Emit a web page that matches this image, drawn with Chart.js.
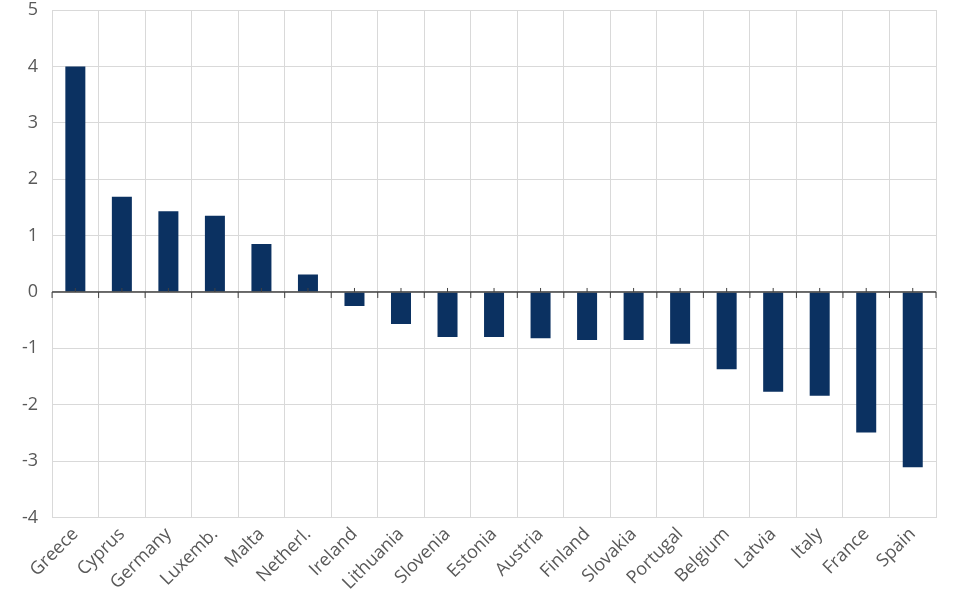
<!DOCTYPE html>
<html>
<head>
<meta charset="utf-8">
<script src="https://cdn.jsdelivr.net/npm/chart.js@4.4.0/dist/chart.umd.min.js"></script>
<style>
  html, body { margin: 0; padding: 0; background: #fff; }
  #wrap { width: 960px; height: 600px; }
</style>
</head>
<body>
<div id="wrap"><canvas id="chart"></canvas></div>
<script>
const countries = ['Greece', 'Cyprus', 'Germany', 'Luxemb.', 'Malta', 'Netherl.', 'Ireland', 'Lithuania', 'Slovenia',
    'Estonia', 'Austria', 'Finland', 'Slovakia', 'Portugal', 'Belgium', 'Latvia', 'Italy', 'France', 'Spain'];
const values = [4.0, 1.69, 1.43, 1.35, 0.85, 0.31, -0.25, -0.57, -0.80,
    -0.80, -0.82, -0.85, -0.85, -0.92, -1.37, -1.77, -1.84, -2.49, -3.11];
const yMin = -4;
const yMax = 5;

// zero line with small tick marks, like the original axis
const zeroAxis = {
    id: 'zeroAxis',
    afterDatasetsDraw(chart) {
        const { ctx, chartArea, scales: { x, y } } = chart;
        const y0 = y.getPixelForValue(0);
        ctx.save();
        ctx.strokeStyle = '#404040';
        ctx.lineWidth = 1.5;
        ctx.beginPath();
        ctx.moveTo(chartArea.left, y0);
        ctx.lineTo(chartArea.right, y0);
        ctx.stroke();
        ctx.lineWidth = 1;
        const half = (x.getPixelForValue(1) - x.getPixelForValue(0)) / 2;
        countries.forEach((c, i) => {
            const cx = x.getPixelForValue(i);
            ctx.beginPath();
            ctx.moveTo(cx, y0);
            ctx.lineTo(cx, y0 - 4);
            ctx.moveTo(cx - half, y0);
            ctx.lineTo(cx - half, y0 + 6);
            ctx.stroke();
        });
        ctx.beginPath();
        ctx.moveTo(chartArea.right, y0);
        ctx.lineTo(chartArea.right, y0 + 6);
        ctx.stroke();
        ctx.restore();
    }
};

new Chart(document.getElementById('chart'), {
    type: 'bar',
    data: {
        labels: countries,
        datasets: [{
            data: values,
            backgroundColor: '#0b3161',
            categoryPercentage: 1,
            barPercentage: 0.43
        }]
    },
    options: {
        responsive: true,
        maintainAspectRatio: false,
        animation: false,
        layout: { padding: { top: 10, right: 24, left: 8, bottom: 0 } },
        plugins: { legend: { display: false }, tooltip: { enabled: false } },
        scales: {
            x: {
                grid: { color: '#d9d9d9', offset: true, drawTicks: false },
                border: { display: false },
                ticks: {
                    color: '#595959',
                    font: { family: 'Open Sans', size: 18 },
                    minRotation: 45,
                    maxRotation: 45,
                    padding: 6,
                    autoSkip: false
                }
            },
            y: {
                min: yMin,
                max: yMax,
                grid: { color: '#d9d9d9', drawTicks: false },
                border: { display: false },
                afterFit(scale) {
                    scale.paddingTop = 0;
                    scale.paddingBottom = 0;
                },
                ticks: {
                    stepSize: 1,
                    color: '#595959',
                    font: { family: 'Open Sans', size: 18 },
                    padding: 14
                }
            }
        }
    },
    plugins: [zeroAxis]
});
</script>
</body>
</html>
